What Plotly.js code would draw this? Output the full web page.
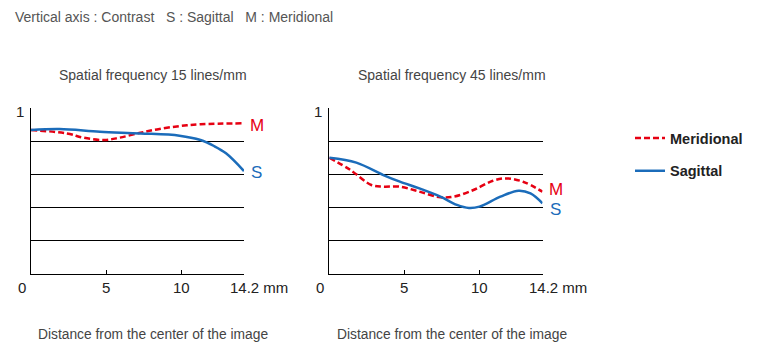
<!DOCTYPE html>
<html><head><meta charset="utf-8">
<script src="https://cdn.plot.ly/plotly-3.0.1.min.js"></script>
<style>html,body{margin:0;padding:0;background:#fff}#chart{width:759px;height:354px}</style>
</head><body><div id="chart"></div>
<script>
// Left chart: spatial frequency 15 lines/mm
const left_x_M = [0, 2.4, 3.5, 4.9, 5.9, 7.3, 8.4, 9.9, 11.3, 14.2];
const left_M   = [0.867, 0.847, 0.821, 0.807, 0.821, 0.851, 0.871, 0.891, 0.902, 0.908];
const left_x_S = [0, 1.9, 4.6, 7.3, 9.9, 11.3, 12.2, 13.0, 14.2];
const left_S   = [0.867, 0.873, 0.857, 0.847, 0.833, 0.807, 0.771, 0.727, 0.62];
// Right chart: spatial frequency 45 lines/mm
const right_x_M = [0, 1.4, 2.8, 3.6, 4.7, 6.0, 7.4, 8.3, 9.6, 10.9, 11.8, 12.9, 14.2];
const right_M   = [0.70, 0.627, 0.536, 0.526, 0.526, 0.496, 0.462, 0.466, 0.506, 0.562, 0.576, 0.556, 0.496];
const right_x_S = [0, 1.8, 3.6, 4.7, 6.0, 7.4, 8.5, 9.3, 10.0, 11.4, 12.6, 13.4, 14.2];
const right_S   = [0.70, 0.671, 0.596, 0.556, 0.516, 0.466, 0.416, 0.398, 0.406, 0.466, 0.502, 0.486, 0.426];

const xTickVals = [0, 5, 10, 14.2];
const xTickText = ["0", "5", "10", "14.2 mm"];
const yTopLabel = "1";
const gridVals = [0.2, 0.4, 0.6, 0.8];
const chartTitles = ["Spatial frequency 15 lines/mm", "Spatial frequency 45 lines/mm"];
const xTitle = "Distance from the center of the image";
const header = "Vertical axis : Contrast   S : Sagittal   M : Meridional";
const seriesNames = ["Meridional", "Sagittal"];

const RED = "#e60012", BLUE = "#1b6cba";
const FONT = "Liberation Sans, Arial, sans-serif";
const W = 759, H = 354;
const px = v => v / W, py = v => (H - v) / H;
const DASH = "6px,3px";

const traces = [
  {x: left_x_M, y: left_M, xaxis: "x", yaxis: "y", name: seriesNames[0], legendgroup: "m", showlegend: true,
   mode: "lines", line: {color: RED, width: 2.5, dash: DASH, shape: "spline", smoothing: 1}},
  {x: left_x_S, y: left_S, xaxis: "x", yaxis: "y", name: seriesNames[1], legendgroup: "s", showlegend: true,
   mode: "lines", line: {color: BLUE, width: 2.5, shape: "spline", smoothing: 1}},
  {x: right_x_M, y: right_M, xaxis: "x2", yaxis: "y2", name: seriesNames[0], legendgroup: "m", showlegend: false,
   mode: "lines", line: {color: RED, width: 2.5, dash: DASH, shape: "spline", smoothing: 1}},
  {x: right_x_S, y: right_S, xaxis: "x2", yaxis: "y2", name: seriesNames[1], legendgroup: "s", showlegend: false,
   mode: "lines", line: {color: BLUE, width: 2.5, shape: "spline", smoothing: 1}}
];

const yDom = [py(274), py(108)];
function xax(dom, anchor) {
  return {domain: dom, range: [0, 14.2], anchor: anchor, showgrid: false, zeroline: false, showline: true, linecolor: "#000", linewidth: 1,
    tickmode: "array", tickvals: [5, 10], ticks: "inside", ticklen: 4, tickcolor: "#000", showticklabels: false, fixedrange: true};
}
function yax(anchor) {
  return {domain: yDom, range: [0, 1], anchor: anchor, showgrid: true, gridcolor: "#000", gridwidth: 1, zeroline: false,
    showline: true, linecolor: "#000", linewidth: 1, tickmode: "array", tickvals: gridVals, ticks: "", showticklabels: false, fixedrange: true};
}

const ann = [];
const panels = [{xr: "x", left: 31, cx: 153}, {xr: "x2", left: 329.3, cx: 452}];
panels.forEach((p, i) => {
  xTickVals.forEach((v, j) => {
    const t = xTickText[j];
    const base = {yref: "paper", y: py(287), text: t, showarrow: false, yanchor: "middle",
      font: {family: FONT, size: 15, color: "#222"}};
    if (j === 0) {
      ann.push(Object.assign(base, {xref: "paper", x: px(p.left - 9), xanchor: "center"}));
    } else if (t.indexOf(" ") > 0) {
      ann.push(Object.assign(base, {xref: p.xr, x: v, xshift: -16, xanchor: "left"}));
    } else {
      ann.push(Object.assign(base, {xref: p.xr, x: v, xanchor: "center"}));
    }
  });
  ann.push({xref: "paper", yref: "paper", x: px(p.left - 11), y: py(112), text: yTopLabel, showarrow: false,
    xanchor: "center", yanchor: "middle", font: {family: FONT, size: 15, color: "#222"}});
  ann.push({xref: "paper", yref: "paper", x: px(p.cx), y: py(75), text: chartTitles[i], showarrow: false,
    xanchor: "center", yanchor: "middle", font: {family: FONT, size: 14, color: "#444"}});
  ann.push({xref: "paper", yref: "paper", x: px(p.cx), y: py(334), text: xTitle, showarrow: false,
    xanchor: "center", yanchor: "middle", font: {family: FONT, size: 13.8, color: "#444"}});
});
ann.push({xref: "x", yref: "y", x: 14.2, y: left_M[left_M.length - 1], text: "M", showarrow: false, xanchor: "left", xshift: 4, yshift: -2, font: {family: FONT, size: 17, color: RED}});
ann.push({xref: "x", yref: "y", x: 14.2, y: left_S[left_S.length - 1], text: "S", showarrow: false, xanchor: "left", xshift: 5, yshift: -1, font: {family: FONT, size: 17, color: BLUE}});
ann.push({xref: "x2", yref: "y2", x: 14.2, y: right_M[right_M.length - 1], text: "M", showarrow: false, xanchor: "left", xshift: 4, yshift: 2, font: {family: FONT, size: 17, color: RED}});
ann.push({xref: "x2", yref: "y2", x: 14.2, y: right_S[right_S.length - 1], text: "S", showarrow: false, xanchor: "left", xshift: 5, yshift: -6, font: {family: FONT, size: 17, color: BLUE}});
ann.push({xref: "paper", yref: "paper", x: px(13), y: py(17), text: header, showarrow: false, xanchor: "left", yanchor: "middle",
  font: {family: FONT, size: 14, color: "#555"}});

const layout = {
  width: W, height: H, margin: {l: 0, r: 0, t: 0, b: 0},
  paper_bgcolor: "#fff", plot_bgcolor: "#fff",
  xaxis: xax([px(31), px(244)], "y"), yaxis: yax("x"),
  xaxis2: xax([px(329.3), px(542.5)], "y2"), yaxis2: yax("x2"),
  showlegend: true,
  legend: {x: px(630), y: py(122), xanchor: "left", yanchor: "top", traceorder: "grouped", tracegroupgap: 11,
    font: {family: FONT, size: 14.5, color: "#222", weight: "bold"}, bgcolor: "rgba(0,0,0,0)", borderwidth: 0},
  annotations: ann
};
Plotly.newPlot("chart", traces, layout, {displayModeBar: false, staticPlot: true});
</script></body></html>
